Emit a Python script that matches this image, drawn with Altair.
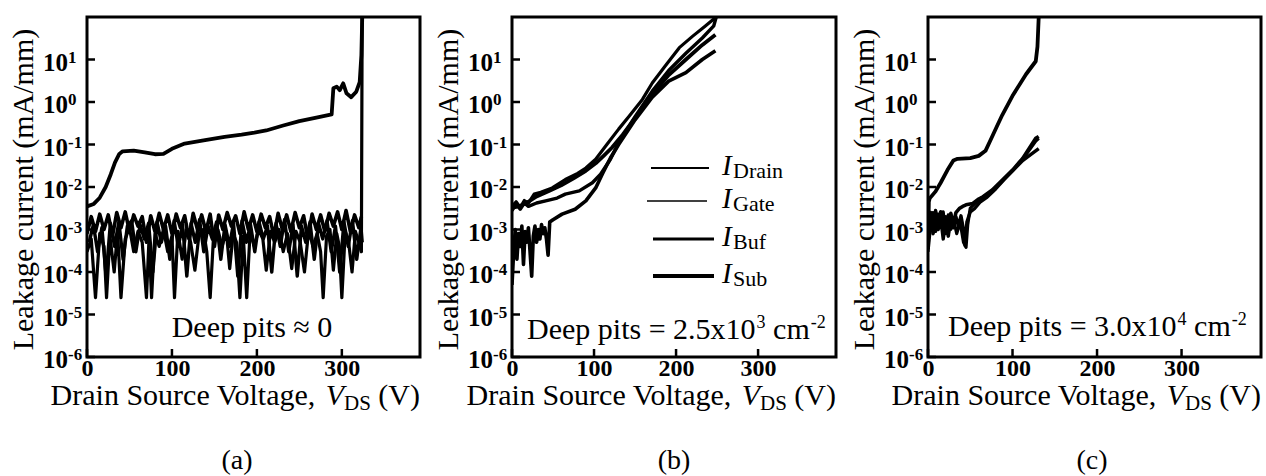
import altair as alt
import pandas as pd

SERIF = "Liberation Serif"
H = 340
Y_DOMAIN = [1e-6, 100]
X_TICKS = [0, 100, 200, 300]
Y_TICKS = [1e-6, 1e-5, 1e-4, 1e-3, 1e-2, 1e-1, 1e0, 1e1]
Y_EXP = ["-6", "-5", "-4", "-3", "-2", "-1", "0", "1"]

# ---------------- panel (a): deep pits ~ 0 ----------------
A_DRAIN_V = [0, 8, 15, 22, 28, 33, 38, 42, 55, 68, 80, 90, 100, 115, 139, 162, 182, 197, 211, 231,
             250, 270, 288, 290, 294, 297.6, 301.6, 305.5, 311, 317, 321, 323, 324]
A_DRAIN_I = [3.5e-3, 4.0e-3, 5.6e-3, 1.0e-2, 2.0e-2, 3.8e-2, 6.0e-2, 6.9e-2, 7.2e-2, 6.5e-2, 5.9e-2,
             6.0e-2, 7.9e-2, 0.105, 0.126, 0.151, 0.17, 0.19, 0.214, 0.28, 0.355, 0.43, 0.51, 2.1,
             2.3, 1.9, 2.75, 1.6, 1.3, 1.75, 2.95, 12.6, 100]
A_GATE_V = [0, 5, 10, 15, 20, 25, 30, 35, 40, 45, 50, 55, 60, 65, 70, 75, 80, 85, 90, 95,
            100, 105, 110, 115, 120, 125, 130, 135, 140, 145, 150, 155, 160, 165, 170, 175, 180, 185, 190, 195,
            200, 205, 210, 215, 220, 225, 230, 235, 240, 245, 250, 255, 260, 265, 270, 275, 280, 285, 290, 295,
            300, 305, 310, 315, 320, 323]
A_GATE_I = [8e-4, 2.0e-3, 9e-4, 2.3e-3, 1.0e-3, 2.2e-3, 7e-4, 2.5e-3, 1.1e-3, 2.6e-3,
            9e-4, 2.2e-3, 1.2e-3, 2.0e-3, 5e-4, 2.1e-3, 9e-4, 2.4e-3, 1.0e-3, 2.2e-3,
            8e-4, 2.3e-3, 1.1e-3, 2.1e-3, 6e-4, 2.4e-3, 1.0e-3, 2.2e-3, 9e-4, 2.3e-3,
            4e-4, 2.2e-3, 1.0e-3, 2.5e-3, 1.2e-3, 2.1e-3, 8e-4, 2.6e-3, 1.0e-3, 2.2e-3,
            9e-4, 2.3e-3, 1.1e-3, 2.0e-3, 7e-4, 2.4e-3, 1.0e-3, 2.2e-3, 9e-4, 2.5e-3,
            1.1e-3, 2.1e-3, 6e-4, 2.3e-3, 1.0e-3, 2.2e-3, 9e-4, 2.4e-3, 1.2e-3, 2.6e-3,
            1.0e-3, 2.8e-3, 9e-4, 2.2e-3, 1.1e-3, 2.0e-3]
A_BUF_V = [2.5, 7.5, 12.5, 17.5, 22.5, 27.5, 32.5, 37.5, 42.5, 47.5, 52.5, 57.5, 62.5, 67.5, 72.5,
           77.5, 82.5, 87.5, 92.5, 97.5, 102.5, 107.5, 112.5, 117.5, 122.5, 127.5, 132.5, 137.5, 142.5,
           147.5, 152.5, 157.5, 162.5, 167.5, 172.5, 177.5, 182.5, 187.5, 192.5, 197.5, 202.5, 207.5,
           212.5, 217.5, 222.5, 227.5, 232.5, 237.5, 242.5, 247.5, 252.5, 257.5, 262.5, 267.5, 272.5,
           277.5, 282.5, 287.5, 292.5, 297.5, 302.5, 307.5, 312.5, 317.5, 322.5, 324]
A_BUF_I = [5e-4, 1.3e-3, 3e-4, 1.1e-3, 8e-5, 1.4e-3, 4e-4, 1.5e-3, 2e-4, 1.2e-3,
           1.6e-3, 3e-4, 1.3e-3, 6e-4, 1.4e-3, 1e-4, 1.5e-3, 5e-4, 1.2e-3, 2e-4,
           1.6e-3, 4e-4, 1.3e-3, 8e-5, 1.4e-3, 5e-4, 1.7e-3, 3e-4, 1.2e-3, 6e-4,
           1.5e-3, 2e-4, 1.3e-3, 4e-4, 1.4e-3, 8e-5, 1.6e-3, 5e-4, 1.3e-3, 3e-4,
           1.5e-3, 6e-4, 1.2e-3, 1e-4, 1.4e-3, 4e-4, 1.7e-3, 3e-4, 1.3e-3, 8e-5,
           1.2e-3, 5e-4, 1.5e-3, 2e-4, 1.4e-3, 6e-4, 1.6e-3, 3e-4, 1.2e-3, 1e-4,
           1.5e-3, 4e-4, 1.6e-3, 2e-4, 1.1e-3, 5e-4]
A_SUB_V = [0, 5, 10, 15, 20, 23, 27, 32, 36, 40, 45, 50, 55, 60, 65, 70, 73, 76, 80, 85,
           90, 95, 100, 103, 107, 112, 117, 122, 127, 132, 137, 141, 145, 149, 154, 159, 164, 168, 172, 176,
           180, 184, 188, 192, 197, 202, 207, 211, 216, 221, 226, 231, 236, 241, 246, 251, 256, 261, 266, 271,
           275, 278, 282, 286, 290, 294, 297, 300, 304, 308, 312, 316, 320, 323, 323.9]
A_SUB_I = [3e-4, 6e-4, 2.5e-5, 8e-4, 4e-4, 2.5e-5, 7e-4, 1e-4, 9e-4, 2.5e-5,
           6e-4, 1.1e-3, 3e-4, 9e-4, 5e-4, 2.5e-5, 6e-4, 2.5e-5, 8e-4, 4e-4,
           1e-3, 3e-4, 7e-4, 2.5e-5, 9e-4, 2e-4, 1e-3, 5e-4, 1.1e-4, 8e-4,
           1e-3, 3e-4, 2.5e-5, 7e-4, 1e-3, 4e-4, 9e-4, 1.2e-4, 8e-4, 5e-4,
           2.5e-5, 7e-4, 2.5e-5, 9e-4, 4e-4, 1e-3, 6e-4, 1.1e-4, 9e-4, 5e-4,
           1e-3, 3e-4, 8e-4, 1.2e-4, 9e-4, 5e-4, 1e-4, 1e-3, 4e-4, 8e-4,
           3e-4, 2.5e-5, 7e-4, 1e-3, 1.1e-4, 8e-4, 4e-4, 2.5e-5, 9e-4, 5e-4,
           1e-4, 9e-4, 5e-4, 3e-4, 100]

# ---------------- panel (b): 2.5x10^3 cm^-2 ----------------
B_SUB_V = [0, 5, 10, 15, 20, 27, 35, 49, 65, 80, 90, 102, 114, 130, 143, 159, 171, 187, 204, 220, 235, 246, 249]
B_SUB_I = [3.5e-3, 4.5e-3, 3.3e-3, 4.8e-3, 4.2e-3, 6.8e-3, 7.5e-3, 9.5e-3, 1.5e-2, 2.1e-2, 2.8e-2, 4.5e-2,
           9.1e-2, 0.23, 0.47, 1.15, 2.8, 7.1, 19, 35, 60, 90, 100]
B_BUF_V = [0, 5, 10, 15, 20, 30, 41, 55, 65, 82, 98, 108, 120, 130, 150, 171, 191, 212, 232, 246, 249]
B_BUF_I = [2.8e-3, 4.0e-3, 3.0e-3, 4.2e-3, 3.5e-3, 4.2e-3, 4.7e-3, 5.5e-3, 6.8e-3, 8.1e-3, 1.26e-2, 2.0e-2,
           4.5e-2, 0.11, 0.45, 1.8, 5.5, 14, 32, 62, 100]
B_DRAIN_V = [0, 10, 20, 30, 45, 60, 75, 90, 102, 112, 122, 135, 150, 171, 191, 212, 232, 248]
B_DRAIN_I = [3.2e-3, 3.6e-3, 4.5e-3, 6.0e-3, 8.0e-3, 1.1e-2, 1.6e-2, 2.4e-2, 3.6e-2, 5.5e-2, 8.5e-2, 0.17,
             0.42, 1.5, 4.3, 10, 22, 38]
B_GATE_V = [0, 2, 4, 6, 8, 10, 12, 14, 16, 18, 20, 22, 24, 26, 28, 30, 32, 34, 36, 38, 40, 42, 44, 46,
            50, 61, 77, 90, 102, 110, 120, 130, 150, 171, 191, 212, 232, 248]
B_GATE_I = [5e-5, 3e-4, 1.0e-3, 2e-4, 8e-4, 4e-4, 1.2e-3, 1.5e-4, 9e-4, 5e-4, 1.1e-3, 3e-4, 8e-5, 7e-4,
            1.2e-3, 5e-4, 1.0e-3, 6e-4, 1.3e-3, 8e-4, 1.1e-3, 6e-4, 2.5e-4, 1.5e-3,
            1.7e-3, 2.3e-3, 3.0e-3, 4.7e-3, 9.5e-3, 2.0e-2, 4.8e-2, 0.1, 0.38, 1.3, 3.1, 4.9, 10, 16]

# ---------------- panel (c): 3.0x10^4 cm^-2 ----------------
C_DRAIN_V = [0, 1, 2, 9, 15, 23, 30, 35, 50, 60, 68, 75, 82, 88, 100, 116, 127.5, 129.5, 131]
C_DRAIN_I = [3.5e-4, 4.5e-3, 5.4e-3, 7.9e-3, 1.26e-2, 2.5e-2, 4.2e-2, 4.6e-2, 4.8e-2, 5.4e-2, 7.1e-2,
             0.14, 0.28, 0.5, 1.4, 4.5, 9.1, 20, 100]
C_GATE_V = [0, 3, 6, 9, 12, 15, 18, 21, 24, 27, 30, 33, 37, 41, 45, 53, 60, 65, 76, 88, 100, 112, 127.5, 131]
C_GATE_I = [1.5e-3, 2.5e-3, 8e-4, 2.2e-3, 1.0e-3, 2.6e-3, 9e-4, 2.0e-3, 7e-4, 2.4e-3, 1.3e-3, 2.5e-3,
            3.1e-3, 3.5e-3, 3.8e-3, 4.1e-3, 5.2e-3, 5.9e-3, 8.5e-3, 1.45e-2, 2.5e-2, 4.7e-2, 0.14, 0.155]
C_BUF_V = [0, 3, 6, 9, 12, 15, 18, 21, 24, 27, 30, 33, 36, 39, 42, 44, 46, 50, 55, 62, 70, 80, 90, 100,
           112, 125, 131]
C_BUF_I = [5e-4, 1.8e-3, 1.0e-3, 2.8e-3, 1.3e-3, 1.9e-3, 6e-4, 1.6e-3, 8e-4, 1.9e-3, 1.1e-3, 2.0e-3,
           1.2e-3, 2.1e-3, 1.0e-3, 4.2e-4, 1.5e-3, 2.6e-3, 3.1e-3, 4.5e-3, 5.8e-3, 9e-3, 1.5e-2, 2.4e-2,
           4.2e-2, 6.5e-2, 8e-2]
C_SUB_V = [0, 3, 6, 9, 12, 15, 18, 21, 24, 27, 30, 34, 38, 42, 45, 47, 50, 60, 76, 88, 100, 112, 127.5, 131]
C_SUB_I = [3e-4, 1.2e-3, 2.5e-3, 9e-4, 2.3e-3, 1.1e-3, 2.6e-3, 8e-4, 2.2e-3, 1.0e-3, 1.8e-3, 8e-4,
           1.5e-3, 5e-4, 3.8e-4, 1.3e-3, 3.2e-3, 5e-3, 8e-3, 1.4e-2, 2.4e-2, 4.5e-2, 0.12, 0.14]

# ---------------- text helpers (Times metrics) ----------------
TIMES = {"D": .722, "r": .333, "a": .444, "i": .278, "n": .5, " ": .25, "S": .556, "o": .5, "u": .5,
         "c": .444, "e": .444, "V": .722, "l": .278, "t": .278, "g": .5, ",": .25, "(": .333, ")": .333,
         "p": .5, "s": .389, "=": .564, "2": .5, ".": .25, "5": .5, "x": .5, "1": .5, "0": .5, "3": .5,
         "4": .5, "m": .778, "-": .333}


def tw(s, size):
    return sum(TIMES[c] for c in s) * size


ONE = pd.DataFrame({"_": [0]})


def txt(text, x, y, size, weight="normal", style="normal", align="left"):
    return alt.Chart(ONE).mark_text(
        text=text, font=SERIF, fontSize=size, fontWeight=weight, fontStyle=style,
        align=align, baseline="alphabetic", color="black"
    ).encode(x=alt.value(x), y=alt.value(y))


def x_title(W, y=388, F=30, FS=21):
    w1 = tw("Drain Source Voltage,", F) + 0.2 * F
    wv = 0.611 * F
    wds = tw("DS", FS)
    w4 = tw(" (V)", F)
    x0 = W - (w1 + wv + wds + w4)
    return [txt("Drain Source Voltage,", x0, y, F),
            txt("V", x0 + w1, y, F, style="italic"),
            txt("DS", x0 + w1 + wv, y + 5, FS),
            txt("(V)", x0 + w1 + wv + wds + tw(" ", F), y, F)]


def pits(x0, y, mant, exp, F=30, FS=18):
    main = f"Deep pits = {mant}x10"
    w = tw(main, F)
    layers = [txt(main, x0, y, F), txt(exp, x0 + w + 1, y - 11, FS)]
    x = x0 + w + 1 + tw(exp, FS) + tw(" ", F)
    layers.append(txt("cm", x, y, F))
    x += tw("cm", F) + 1
    layers.append(txt("-2", x, y - 11, FS))
    return layers


def legend():
    rows = [("Drain", 151, 139, 197, 2.0), ("Gate", 184, 135, 195, 1.5),
            ("Buf", 222, 141, 202, 2.8), ("Sub", 259, 141, 202, 3.8)]
    out = []
    for name, y, x1, x2, sw in rows:
        out.append(alt.Chart(ONE).mark_rule(color="black", strokeWidth=sw).encode(
            x=alt.value(x1), x2=alt.value(x2), y=alt.value(y)))
        out.append(txt("I", 210, y + 7, 29, style="italic"))
        out.append(txt(name, 221, y + 10, 22))
    return out


def panel(series, widths, W, xmax, extras):
    rows = []
    for name, (vs, cs) in series.items():
        for k, (v, c) in enumerate(zip(vs, cs)):
            rows.append({"s": name, "v": v, "i": c, "k": k})
    df = pd.DataFrame(rows)
    xs = alt.Scale(domain=[0, xmax], nice=False, zero=False)
    ys = alt.Scale(type="log", domain=Y_DOMAIN, nice=False)
    xa = alt.Axis(values=X_TICKS, title=None, labelFont=SERIF, labelFontSize=24, labelFontWeight="bold",
                  labelColor="black", labelFlush=False, labelBaseline="alphabetic", labelPadding=18,
                  ticks=False, domain=False, grid=False, labelOverlap=False)
    ya = alt.Axis(title="Leakage current (mA/mm)", labels=False, ticks=False, domain=False, grid=False,
                  titleFont=SERIF, titleFontSize=30, titleFontWeight="normal", titleColor="black",
                  titleAngle=270, titleX=-64, titleY=H / 2 + 2, titleAlign="center", titleBaseline="middle")
    lines = alt.Chart(df).mark_line(color="black", strokeJoin="round", clip=True).encode(
        x=alt.X("v:Q", scale=xs, axis=xa),
        y=alt.Y("i:Q", scale=ys, axis=ya),
        strokeWidth=alt.StrokeWidth("s:N", scale=alt.Scale(domain=list(widths.keys()),
                                                           range=list(widths.values())), legend=None),
        detail="s:N",
        order="k:Q",
    )
    ytdf = pd.DataFrame({"val": Y_TICKS, "exp": Y_EXP})
    xtdf = pd.DataFrame({"t": X_TICKS})
    ylab10 = alt.Chart(ytdf).mark_text(
        text="10", font=SERIF, fontSize=25, fontWeight="bold", align="right", baseline="alphabetic",
        dy=11, color="black").encode(x=alt.value(-19), y=alt.Y("val:Q", scale=ys, axis=ya))
    ylabexp = alt.Chart(ytdf).mark_text(
        font=SERIF, fontSize=17, fontWeight="bold", align="left", baseline="alphabetic",
        dy=3, color="black").encode(x=alt.value(-19), y=alt.Y("val:Q", scale=ys, axis=ya), text="exp:N")
    yticks = alt.Chart(ytdf).mark_rule(color="black", strokeWidth=2.5).encode(
        y=alt.Y("val:Q", scale=ys, axis=ya), x=alt.value(0), x2=alt.value(8))
    xticks = alt.Chart(xtdf).mark_rule(color="black", strokeWidth=2.5).encode(
        x=alt.X("t:Q", scale=xs, axis=xa), y=alt.value(H), y2=alt.value(H - 8))
    return alt.layer(lines, yticks, xticks, ylab10, ylabexp, *extras).properties(width=W, height=H)


pa = panel({"Drain": (A_DRAIN_V, A_DRAIN_I), "Gate": (A_GATE_V, A_GATE_I),
            "Buf": (A_BUF_V, A_BUF_I), "Sub": (A_SUB_V, A_SUB_I)},
           {"Drain": 3.8, "Gate": 3.2, "Buf": 3.2, "Sub": 3.2}, 333, 392,
           [txt("Deep pits \u2248 0", 165, 320, 30, align="center"), *x_title(333),
            txt("(a)", 150, 452, 28, align="center")])

pb = panel({"Drain": (B_DRAIN_V, B_DRAIN_I), "Gate": (B_GATE_V, B_GATE_I),
            "Buf": (B_BUF_V, B_BUF_I), "Sub": (B_SUB_V, B_SUB_I)},
           {"Drain": 2.4, "Gate": 2.0, "Buf": 2.8, "Sub": 3.6}, 324, 395,
           [*pits(15, 322, "2.5", "3"), *legend(), *x_title(324),
            txt("(b)", 162, 452, 28, align="center")])

pc = panel({"Drain": (C_DRAIN_V, C_DRAIN_I), "Gate": (C_GATE_V, C_GATE_I),
            "Buf": (C_BUF_V, C_BUF_I), "Sub": (C_SUB_V, C_SUB_I)},
           {"Drain": 2.8, "Gate": 1.8, "Buf": 2.0, "Sub": 1.8}, 333, 394,
           [*pits(20, 319, "3.0", "4"), *x_title(333),
            txt("(c)", 164, 452, 28, align="center")])

chart = alt.hconcat(pa, pb, pc, spacing=92, bounds="flush").configure_view(
    stroke="black", strokeWidth=3
).properties(padding={"left": 6, "top": 15, "right": 3, "bottom": 2}, background="white")

chart.save("out.html", embed_options={"renderer": "svg", "actions": False})
